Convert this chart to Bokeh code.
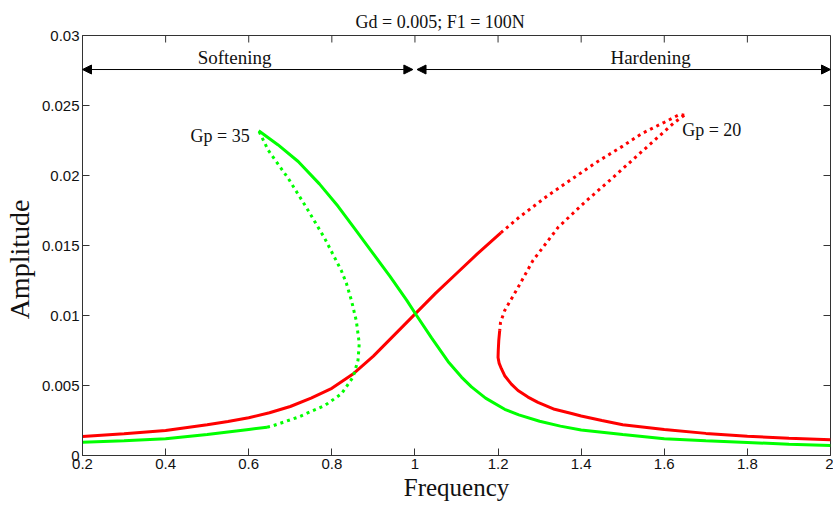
import math
from bokeh.plotting import figure
from bokeh.models import (FixedTicker, NumeralTickFormatter, Label, Arrow, NormalHead, Range1d, Title)
from bokeh.embed import file_html
from bokeh.resources import INLINE

# ---------------- data ----------------
# Gp = 20 (hardening, red)
red_low_x = [0.2, 0.3, 0.4, 0.5, 0.55, 0.6, 0.65, 0.7, 0.75, 0.8, 0.85, 0.9, 0.95, 1.0, 1.05,
             1.1, 1.15, 1.2065]
red_low_y = [0.00136, 0.00155, 0.00179, 0.0022, 0.00243, 0.0027, 0.00305, 0.0035, 0.0041, 0.0048,
             0.0058, 0.0071, 0.0086, 0.0101, 0.0116, 0.0130, 0.0144, 0.0159]
red_up_x = [1.2065, 1.25, 1.32, 1.40, 1.437, 1.5, 1.545, 1.6, 1.637, 1.648]
red_up_y = [0.0159, 0.0170, 0.01857, 0.0202, 0.02095, 0.0221, 0.02298, 0.0238, 0.02436, 0.0243]
red_ret_x = [1.648, 1.625, 1.549, 1.473, 1.409, 1.345, 1.284, 1.244, 1.216, 1.206, 1.204]
red_ret_y = [0.0243, 0.0238, 0.02179, 0.01976, 0.0181, 0.01631, 0.01393, 0.01179, 0.01036, 0.00952, 0.00893]
red_hi_x = [1.204, 1.2017, 1.2005, 1.2, 1.2025, 1.208, 1.216, 1.232, 1.248, 1.272, 1.296, 1.336,
            1.377, 1.4, 1.45, 1.5, 1.6, 1.7, 1.8, 1.9, 2.0]
red_hi_y = [0.00893, 0.0082, 0.0075, 0.0070, 0.0066, 0.0062, 0.0057, 0.0051, 0.00464, 0.00417,
            0.0038, 0.0033, 0.0030, 0.00282, 0.0025, 0.0022, 0.00185, 0.00158, 0.00137, 0.00123, 0.00112]

# Gp = 35 (softening, green)
green_low_x = [0.2, 0.3, 0.4, 0.5, 0.6, 0.644]
green_low_y = [0.00095, 0.00106, 0.0012, 0.0015, 0.00186, 0.00202]
green_dot_x = [0.644, 0.655, 0.719, 0.783, 0.823, 0.851, 0.863, 0.866, 0.859, 0.847, 0.835, 0.823,
               0.783, 0.739, 0.695, 0.647, 0.624]
green_dot_y = [0.00202, 0.00209, 0.00274, 0.00357, 0.0044, 0.0056, 0.0068, 0.0080, 0.0096, 0.0111,
               0.0123, 0.0132, 0.0155, 0.0177, 0.0198, 0.0218, 0.0232]
green_up_x = [0.624, 0.67, 0.719, 0.77, 0.815, 0.855, 0.895, 0.94, 0.98, 1.004, 1.04, 1.08, 1.112,
              1.136, 1.17, 1.216, 1.25, 1.3, 1.35, 1.4, 1.5, 1.6, 1.7, 1.8, 1.9, 2.0]
green_up_y = [0.0232, 0.0222, 0.0210, 0.0194, 0.0178, 0.0162, 0.0146, 0.0128, 0.0111, 0.0100,
              0.0084, 0.0067, 0.0056, 0.0049, 0.0041, 0.0033, 0.0029, 0.00245, 0.0021, 0.00182,
              0.0015, 0.0012, 0.00105, 0.00093, 0.00081, 0.00071]

x_ticks = [0.2, 0.4, 0.6, 0.8, 1.0, 1.2, 1.4, 1.6, 1.8, 2.0]
y_ticks = [0.0, 0.005, 0.01, 0.015, 0.02, 0.025, 0.03]

regime_names = ["Softening", "Hardening"]
regime_start = [0.2, 1.005]
regime_end = [0.995, 2.0]
regime_mid = [0.566, 1.567]
regime_y = 0.02757

title_text = "Gd = 0.005; F1 = 100N"

SERIF = "Liberation Serif"
SANS = "Liberation Sans"
RED = "#ff0000"
GREEN = "#00ff00"
AX = "#333333"
TXT = "#111111"

p = figure(width=833, height=508, output_backend="svg", toolbar_location=None,
           x_range=Range1d(x_ticks[0], x_ticks[-1]), y_range=Range1d(y_ticks[0], y_ticks[-1]),
           min_border_left=81, min_border_right=3, min_border_top=35, min_border_bottom=53,
           x_axis_label="Frequency", y_axis_label="Amplitude\u00a0\u00a0\u00a0\u00a0")
p.title = Title(text=title_text, align="left", offset=273, text_font=SERIF,
                text_font_style="normal", text_font_size="18px", text_color=TXT, standoff=8)

p.grid.visible = False
p.outline_line_color = AX
p.outline_line_width = 1
p.background_fill_color = "white"
p.border_fill_color = "white"

xa = p.below[0]
ya = p.left[0]
xa.ticker = FixedTicker(ticks=x_ticks)
xa.formatter = NumeralTickFormatter(format="0.[0]")
ya.ticker = FixedTicker(ticks=y_ticks)
ya.formatter = NumeralTickFormatter(format="0.[000]")

for ax in (xa, ya):
    ax.major_tick_in = 7
    ax.major_tick_out = 0
    ax.minor_tick_line_color = None
    ax.axis_line_color = AX
    ax.major_tick_line_color = AX
    ax.major_label_text_font = SANS
    ax.major_label_text_font_size = "15px"
    ax.major_label_text_color = TXT
    ax.axis_label_text_font = SERIF
    ax.axis_label_text_font_style = "normal"
    ax.axis_label_text_color = TXT

xa.axis_label_text_font_size = "25px"
xa.axis_label_standoff = 2
xa.major_label_standoff = 3
ya.axis_label_text_font_size = "28px"
ya.axis_label_standoff = 4
ya.major_label_standoff = 3

# inward ticks on the top and right edges of the box
p.ray(x=x_ticks, y=[y_ticks[-1]] * len(x_ticks), length=7, length_units="screen",
      angle=-math.pi / 2, line_color=AX, line_width=1)
p.ray(x=[x_ticks[-1]] * len(y_ticks), y=y_ticks, length=7, length_units="screen",
      angle=math.pi, line_color=AX, line_width=1)

LW = 3
DOT = "3 4"
p.line(red_low_x, red_low_y, color=RED, line_width=LW)
p.line(red_up_x, red_up_y, color=RED, line_width=LW, line_dash=DOT)
p.line(red_ret_x, red_ret_y, color=RED, line_width=LW, line_dash=DOT)
p.line(red_hi_x, red_hi_y, color=RED, line_width=LW)

p.line(green_low_x, green_low_y, color=GREEN, line_width=LW)
p.line(green_dot_x, green_dot_y, color=GREEN, line_width=LW, line_dash=DOT)
p.line(green_up_x, green_up_y, color=GREEN, line_width=LW)

for i in range(len(regime_names)):
    p.add_layout(Arrow(start=NormalHead(size=9, fill_color="black", line_color="black"),
                       end=NormalHead(size=9, fill_color="black", line_color="black"),
                       x_start=regime_start[i], x_end=regime_end[i],
                       y_start=regime_y, y_end=regime_y, line_width=1, line_color="black"))
    p.add_layout(Label(x=regime_mid[i], y=regime_y, text=regime_names[i], text_font=SERIF,
                       text_font_size="19px", text_align="center", text_baseline="bottom",
                       y_offset=2, text_color=TXT))

p.add_layout(Label(x=green_up_x[0], y=green_up_y[0], text="Gp = 35", text_font=SERIF,
                   text_font_size="18px", text_align="right", text_baseline="middle",
                   x_offset=-9, y_offset=-5, text_color=TXT))
p.add_layout(Label(x=red_up_x[-1], y=red_up_y[-1], text="Gp = 20", text_font=SERIF,
                   text_font_size="18px", text_align="left", text_baseline="middle",
                   x_offset=-2, y_offset=-15, text_color=TXT))

open("out.html", "w").write(file_html(p, INLINE))
